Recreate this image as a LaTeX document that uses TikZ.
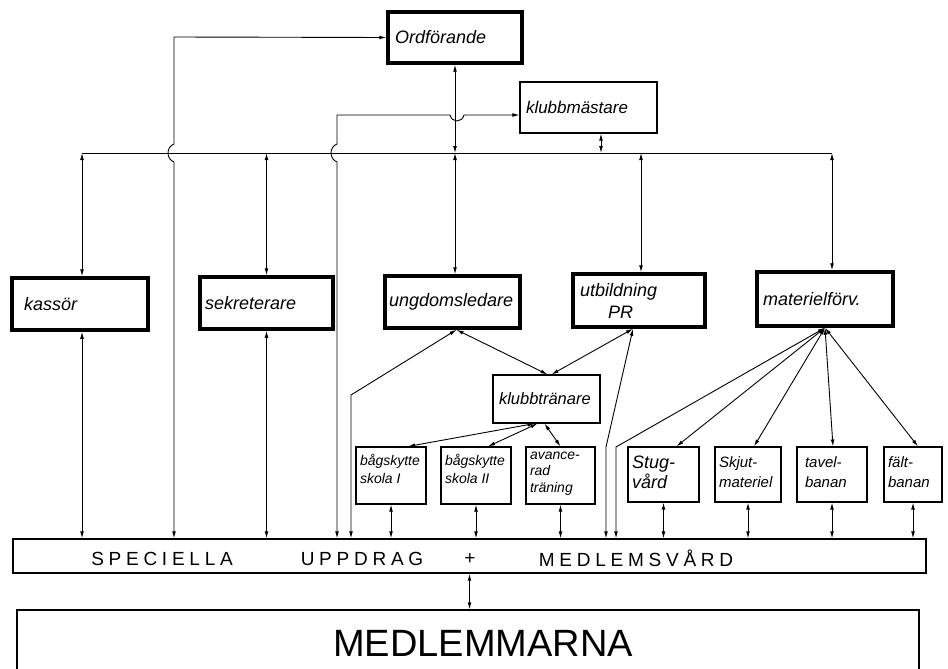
\documentclass[tikz,border=0pt]{standalone}
\usepackage{fontspec}
\setmainfont{Liberation Sans}
\newfontfamily\capsfont[LetterSpace=25]{Liberation Sans}
\newfontfamily\bigcapsfont{Liberation Sans}
\usetikzlibrary{arrows.meta,calc}
\newcommand\tb[3]{\parbox[c][#1][t]{#2}{\raggedright #3}}
\tikzset{
  thickbox/.style={draw, rectangle, line width=3.5pt, inner xsep=8pt, inner ysep=0pt, align=left,
    font=\itshape\fontsize{18}{22}\selectfont},
  thinbox/.style={draw, rectangle, line width=1.1pt, inner xsep=8pt, inner ysep=0pt, align=left,
    font=\itshape\fontsize{17}{21}\selectfont},
  smallbox/.style={draw, rectangle, line width=1.1pt, inner xsep=4pt, inner ysep=0pt,
    font=\itshape\fontsize{14}{18}\selectfont},
  conn/.style={line width=0.9pt, <->, >={Latex[length=7pt,width=3.8pt]}},
  bartext/.style={inner sep=0pt, font=\capsfont\fontsize{19}{22}\selectfont},
}
\begin{document}
\begin{tikzpicture}[x=1pt,y=-1pt]
\clip (0,0) rectangle (948,669);
\fill[white] (0,0) rectangle (948,669);

% boxes
\node[thickbox, minimum height=51pt, inner xsep=7pt, text width=120pt] (ordf) at (455,37.5) {Ordförande};
\node[thinbox, minimum height=51pt, inner xsep=6pt, text width=125pt] (klubbm) at (588.5,107.5) {klubbmästare};
\node[thickbox, minimum height=52pt, inner xsep=12pt, text width=112pt] (kassor) at (80,304) {kassör};
\node[thickbox, minimum height=52pt, inner xsep=5pt, text width=123pt] (sekr) at (266.5,303) {sekreterare};
\node[thickbox, minimum height=52pt, inner xsep=4pt, text width=127pt] (ungd) at (452.5,302) {ungdomsledare};
\node[thickbox, minimum height=53pt, inner xsep=7pt, text width=118pt] (utb) at (639,300.5) {utbildning\\\hspace*{28pt}PR};
\node[thickbox, minimum height=54pt, inner xsep=6pt, text width=124pt] (mat) at (825,299) {materielförv.};
\node[thinbox, minimum height=48pt, inner xsep=6pt, text width=95pt, font=\itshape\fontsize{16.5}{20}\selectfont] (klubbtr) at (546.5,399) {klubbtränare};

\node[smallbox, minimum width=70pt, minimum height=57pt] (bs1) at (391,475.5) {\tb{42pt}{62pt}{bågskytte\\skola I}};
\node[smallbox, minimum width=70pt, minimum height=57pt] (bs2) at (476,475.5) {\tb{42pt}{62pt}{bågskytte\\skola II}};
\node[smallbox, minimum width=69pt, minimum height=57pt, font=\itshape\fontsize{14}{16.5}\selectfont] (av) at (560.5,475.5) {\tb{48pt}{61pt}{avance-\\rad\\träning}};
\node[smallbox, minimum width=71pt, minimum height=55pt, font=\itshape\fontsize{18}{20}\selectfont] (stug) at (663.5,474.5) {\tb{37pt}{63pt}{Stug-\\vård}};
\node[smallbox, minimum width=66pt, minimum height=55pt, font=\itshape\fontsize{15}{20}\selectfont] (skjut) at (748,474.5) {\tb{35pt}{58pt}{Skjut-\\materiel}};
\node[smallbox, minimum width=70pt, minimum height=55pt, font=\itshape\fontsize{15}{20}\selectfont] (tavel) at (832,474.5) {\tb{35pt}{60pt}{\hspace*{3pt}tavel-\\\hspace*{3pt}banan}};
\node[smallbox, minimum width=58pt, minimum height=55pt, font=\itshape\fontsize{15}{20}\selectfont] (falt) at (913,474.5) {\tb{35pt}{50pt}{fält-\\banan}};

\node[draw, rectangle, line width=1.2pt, minimum width=913pt, minimum height=34pt, inner sep=0pt] (bar) at (469.5,556) {};
\node[bartext] (t1) at (162,559) {SPECIELLA};
\node[bartext] (t2) at (362,559) {UPPDRAG};
\node[inner sep=0pt, font=\fontsize{19}{22}\selectfont] (t3) at (470,559) {+};
\node[bartext] (t4) at (636,558) {MEDLEMSVÅRD};

\node[draw, rectangle, line width=1.2pt, minimum width=902pt, minimum height=80pt, inner sep=0pt] (medl) at (468,650) {};
\node[inner sep=0pt, font=\bigcapsfont\fontsize{38}{40}\selectfont] (medltxt) at (483,643) {MEDLEMMARNA};

% bus
\coordinate (bus) at (0,153);
\draw[line width=0.9pt] (82,153) coordinate (busL) -- (832,153) coordinate (busR);

% Ordförande link from the left
\coordinate (lk) at (174,37);
\draw[conn] (ordf.west) -- (lk) -- (174,144) .. controls (166,147) and (166,159) .. (174,162) -- (lk |- bar.north);

% klubbmästare link
\coordinate (km) at (337,115);
\draw[conn] (km |- bar.north) -- (337,162) .. controls (329,159) and (329,147) .. (337,144) -- (km) -- (450,115) .. controls (452,123) and (462,123) .. (464,115) -- (klubbm.west |- km);

% vertical links to bus
\draw[conn] (ordf.south) -- (ordf.south |- bus);
\draw[conn] (ordf.south |- bus) -- (ordf.south |- ungd.north);
\draw[conn] ([xshift=12.5pt]klubbm.south) -- ([xshift=12.5pt]klubbm.south |- bus);
\draw[conn] (busL) -- ([xshift=2pt]kassor.north);
\draw[conn] (sekr.north |- bus) -- (sekr.north);
\draw[conn] ([xshift=2pt]utb.north |- bus) -- ([xshift=2pt]utb.north);
\draw[conn] (busR) -- ([xshift=7pt]mat.north);

% to bar from big boxes
\draw[conn] ([xshift=2pt]kassor.south) -- ([xshift=2pt]kassor.south |- bar.north);
\draw[conn] (sekr.south) -- (sekr.south |- bar.north);

% ungdomsledare
\coordinate (ub) at (351,395);
\draw[conn] ([xshift=4pt]ungd.south) -- (ub) -- (ub |- bar.north);
\draw[conn] ([xshift=4pt]ungd.south) -- ([xshift=1pt]klubbtr.north);
% utbildning
\draw[conn] ([xshift=-6pt]utb.south) -- ([xshift=5pt]klubbtr.north);
\coordinate (pb) at (606,447);
\draw[conn] ([xshift=-6pt]utb.south) -- (pb) -- (pb |- bar.north);
% materielförv
\coordinate (mb) at (616,447);
\draw[conn] (mat.south) -- (mb) -- (mb |- bar.north);
\draw[conn] (mat.south) -- ([xshift=13pt]stug.north);
\draw[conn] (mat.south) -- ([xshift=6pt]skjut.north);
\draw[conn] (mat.south) -- ([xshift=1pt]tavel.north);
\draw[conn] (mat.south) -- ([xshift=5pt]falt.north);
% klubbtränare
\draw[conn] ([xshift=-12pt]klubbtr.south) -- ([xshift=17pt]bs1.north);
\draw[conn] ([xshift=-9pt]klubbtr.south) -- ([xshift=12pt]bs2.north);
\draw[conn] ([xshift=-2pt]klubbtr.south) -- (av.north);

% small boxes to bar
\foreach \n in {bs1,bs2,av,stug,skjut,tavel,falt}
  \draw[conn] (\n.south) -- (\n.south |- bar.north);

% bar to members
\draw[conn] (bar.south) -- (bar.south |- medl.north);
\end{tikzpicture}
\end{document}
